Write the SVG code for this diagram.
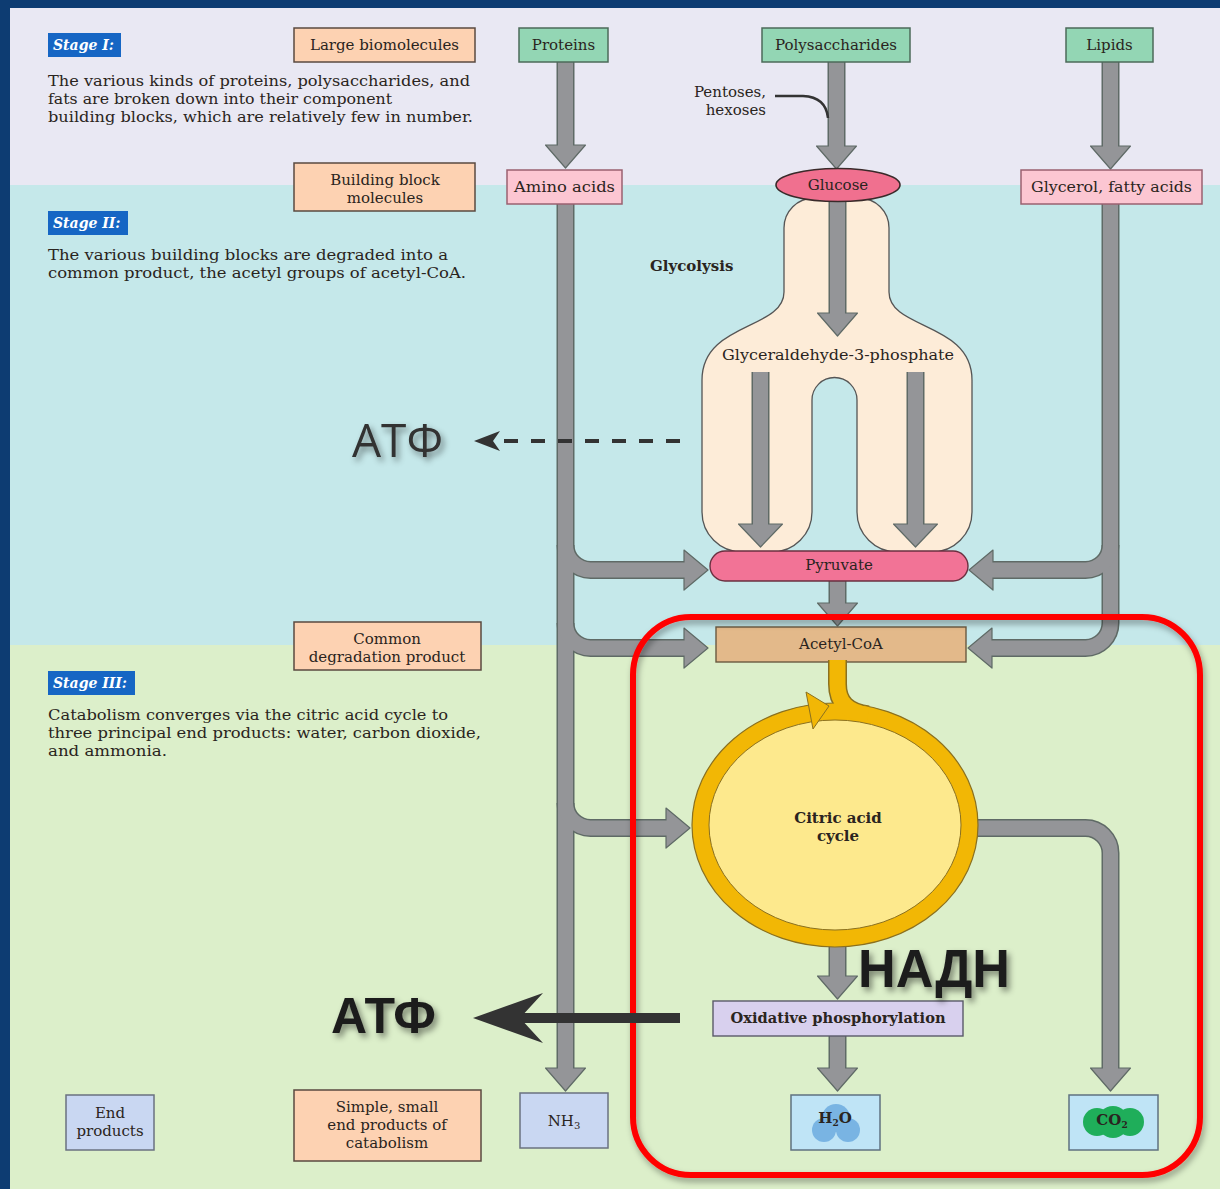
<svg xmlns="http://www.w3.org/2000/svg" width="1220" height="1189" viewBox="0 0 1220 1189">
<defs>
  <style>
    .t{font-family:"DejaVu Serif","Liberation Serif",serif;font-size:15px;fill:#2a2420}
    .c{text-anchor:middle}
    .b{font-weight:bold}
    .stg{fill:#1666c4}
    .stgt{font-family:"DejaVu Serif","Liberation Serif",serif;font-size:14px;font-style:italic;font-weight:bold;fill:#ffffff}
    .bor{fill:#fdd2b2;stroke:#5a4a40;stroke-width:1.5}
    .bgr{fill:#93d6b4;stroke:#4c6a5a;stroke-width:1.5}
    .bpk{fill:#fcc6d2;stroke:#9a6070;stroke-width:1.5}
    .bbl{fill:#c9d7f2;stroke:#6a7280;stroke-width:1.5}
    .bwt{fill:#bfe4f6;stroke:#5f7280;stroke-width:1.5}
    .so{fill:none;stroke:#5f6a66;stroke-width:18}
    .sf{fill:none;stroke:#949598;stroke-width:15}
    .hd{fill:#949598;stroke:#5f6a66;stroke-width:1.2;stroke-linejoin:round}
    .ru{font-family:"Open Sans","DejaVu Sans",sans-serif;fill:#333333}
    .rub{font-family:"Liberation Sans",Arial,sans-serif;font-weight:bold;fill:#1e1e1e}
  </style>
  <filter id="ts" x="-20%" y="-30%" width="150%" height="170%">
    <feDropShadow dx="3" dy="4" stdDeviation="3" flood-color="#000" flood-opacity="0.45"/>
  </filter>
  <filter id="rs" x="-5%" y="-5%" width="110%" height="110%">
    <feDropShadow dx="2" dy="4" stdDeviation="3" flood-color="#000" flood-opacity="0.35"/>
  </filter>
  <!-- arrow shafts, drawn twice: dark outline then grey body -->
  <g id="shafts">
    <path d="M565.5 62V147"/>
    <path d="M836.5 62V148"/>
    <path d="M1110.5 62V148"/>
    <path d="M837.5 200V315"/>
    <path d="M760.5 372V526"/>
    <path d="M915.5 372V526"/>
    <path d="M837.5 581V605"/>
    <path d="M837.5 946V978"/>
    <path d="M837.5 1035V1070"/>
    <path d="M565.5 204V1070"/>
    <path d="M565.5 545A25 25 0 0 0 590.5 570H686"/>
    <path d="M565.5 623A25 25 0 0 0 590.5 648H686"/>
    <path d="M565.5 803A25 25 0 0 0 590.5 828H668"/>
    <path d="M1110.5 204V623A25 25 0 0 1 1085.5 648H990"/>
    <path d="M1110.5 545A25 25 0 0 1 1085.5 570H991"/>
    <path d="M972 828H1085.5A25 25 0 0 1 1110.5 853V1070"/>
  </g>
  <!-- yellow feed from acetyl-CoA into the cycle -->
  <path id="feed" d="M837.5 660V684C837.5 703 848 712 868 715"/>
</defs>

<!-- frame and stage bands -->
<rect x="0" y="0" width="1220" height="1189" fill="#0d3c72"/>
<rect x="10" y="8" width="1210" height="177" fill="#e9e8f3"/>
<rect x="10" y="185" width="1210" height="460" fill="#c5e8ea"/>
<rect x="10" y="645" width="1210" height="544" fill="#dcefca"/>

<!-- stage descriptions -->
<g id="stage1">
  <rect class="stg" x="48" y="33" width="73" height="24"/>
  <text class="stgt" x="53" y="50">Stage I:</text>
  <text class="t" x="48" y="86" textLength="422" lengthAdjust="spacingAndGlyphs">The various kinds of proteins, polysaccharides, and</text>
  <text class="t" x="48" y="104" textLength="344" lengthAdjust="spacingAndGlyphs">fats are broken down into their component</text>
  <text class="t" x="48" y="122" textLength="425" lengthAdjust="spacingAndGlyphs">building blocks, which are relatively few in number.</text>
</g>
<g id="stage2">
  <rect class="stg" x="48" y="211" width="80" height="24"/>
  <text class="stgt" x="53" y="228">Stage II:</text>
  <text class="t" x="48" y="260" textLength="400" lengthAdjust="spacingAndGlyphs">The various building blocks are degraded into a</text>
  <text class="t" x="48" y="278" textLength="418" lengthAdjust="spacingAndGlyphs">common product, the acetyl groups of acetyl-CoA.</text>
</g>
<g id="stage3">
  <rect class="stg" x="48" y="671" width="87" height="24"/>
  <text class="stgt" x="53" y="688">Stage III:</text>
  <text class="t" x="48" y="720" textLength="400" lengthAdjust="spacingAndGlyphs">Catabolism converges via the citric acid cycle to</text>
  <text class="t" x="48" y="738" textLength="433" lengthAdjust="spacingAndGlyphs">three principal end products: water, carbon dioxide,</text>
  <text class="t" x="48" y="756" textLength="119" lengthAdjust="spacingAndGlyphs">and ammonia.</text>
</g>

<!-- level labels -->
<g id="large-biomolecules">
  <rect class="bor" x="294" y="28" width="181" height="34"/>
  <text class="t c" x="384.5" y="50">Large biomolecules</text>
</g>
<g id="building-blocks">
  <rect class="bor" x="294" y="163" width="181" height="48"/>
  <text class="t c" x="385" y="185">Building block</text>
  <text class="t c" x="385" y="203">molecules</text>
</g>
<g id="common-product">
  <rect class="bor" x="294" y="622" width="187" height="48"/>
  <text class="t c" x="387" y="644">Common</text>
  <text class="t c" x="387" y="662">degradation product</text>
</g>
<g id="end-products-label">
  <rect class="bbl" x="66" y="1095" width="88" height="55"/>
  <text class="t c" x="110" y="1118">End</text>
  <text class="t c" x="110" y="1136">products</text>
</g>
<g id="simple-products">
  <rect class="bor" x="294" y="1090" width="187" height="71"/>
  <text class="t c" x="387" y="1112">Simple, small</text>
  <text class="t c" x="387" y="1130">end products of</text>
  <text class="t c" x="387" y="1148">catabolism</text>
</g>

<!-- glycolysis envelope -->
<g id="glycolysis">
  <path d="M784 292V228A30 30 0 0 1 814 198H859A30 30 0 0 1 889 228V292C889 330 972 322 972 380V512A40 40 0 0 1 932 552H897A40 40 0 0 1 857 512V400A22.5 22.5 0 0 0 812 400V512A40 40 0 0 1 772 552H742A40 40 0 0 1 702 512V380C702 322 784 330 784 292Z" fill="#fdecd8" stroke="#555" stroke-width="1.3"/>
  <text class="t b" x="650" y="271" font-size="14">Glycolysis</text>
  <text class="t c" x="838" y="360" fill="#4a3a2a" textLength="232" lengthAdjust="spacingAndGlyphs">Glyceraldehyde-3-phosphate</text>
</g>

<!-- connectors -->
<g id="connectors">
  <use href="#shafts" class="so"/>
  <polygon class="hd" points="545.5,145 585.5,145 565.5,168"/>
  <polygon class="hd" points="816.5,146 856.5,146 836.5,169"/>
  <polygon class="hd" points="1090.5,146 1130.5,146 1110.5,169"/>
  <polygon class="hd" points="817.5,313 857.5,313 837.5,336"/>
  <polygon class="hd" points="738.5,524 782.5,524 760.5,547"/>
  <polygon class="hd" points="893.5,524 937.5,524 915.5,547"/>
  <polygon class="hd" points="817.5,603 857.5,603 837.5,626"/>
  <polygon class="hd" points="817.5,976 857.5,976 837.5,999"/>
  <polygon class="hd" points="817.5,1068 857.5,1068 837.5,1091"/>
  <polygon class="hd" points="545.5,1068 585.5,1068 565.5,1091"/>
  <polygon class="hd" points="1090.5,1068 1130.5,1068 1110.5,1091"/>
  <polygon class="hd" points="684,550 708,570 684,590"/>
  <polygon class="hd" points="684,628 708,648 684,668"/>
  <polygon class="hd" points="666,808 690,828 666,848"/>
  <polygon class="hd" points="993,550 969,570 993,590"/>
  <polygon class="hd" points="992,628 968,648 992,668"/>
  <use href="#shafts" class="sf"/>
  <!-- pentoses/hexoses pointer -->
  <path d="M775 96H803Q826 97 828 118" fill="none" stroke="#333" stroke-width="2.5"/>
</g>

<!-- source molecules -->
<g id="proteins">
  <rect class="bgr" x="519" y="28" width="89" height="34"/>
  <text class="t c" x="563.5" y="50" fill="#1e3a2c">Proteins</text>
</g>
<g id="polysaccharides">
  <rect class="bgr" x="762" y="28" width="148" height="34"/>
  <text class="t c" x="836" y="50" fill="#1e3a2c">Polysaccharides</text>
</g>
<g id="lipids">
  <rect class="bgr" x="1066" y="28" width="87" height="34"/>
  <text class="t c" x="1109.5" y="50" fill="#1e3a2c">Lipids</text>
</g>
<g id="pentoses-label">
  <text class="t" x="766" y="97" text-anchor="end" font-size="14">Pentoses,</text>
  <text class="t" x="766" y="115" text-anchor="end" font-size="14">hexoses</text>
</g>

<!-- building blocks -->
<g id="amino-acids">
  <rect class="bpk" x="507" y="170" width="115" height="34"/>
  <text class="t c" x="564.5" y="192" fill="#5a2030" textLength="101" lengthAdjust="spacingAndGlyphs">Amino acids</text>
</g>
<g id="glucose">
  <ellipse cx="838" cy="185" rx="62" ry="16.5" fill="#f0708f" stroke="#3a2a2a" stroke-width="1.6"/>
  <text class="t c" x="838" y="190" fill="#6a1020" font-size="14">Glucose</text>
</g>
<g id="glycerol">
  <rect class="bpk" x="1021" y="170" width="181" height="34"/>
  <text class="t c" x="1111.5" y="192" fill="#5a2030" textLength="161" lengthAdjust="spacingAndGlyphs">Glycerol, fatty acids</text>
</g>

<g id="pyruvate">
  <rect x="710" y="551" width="258" height="30" rx="15" fill="#f27396" stroke="#6a3040" stroke-width="1.4"/>
  <text class="t c" x="839" y="570" fill="#5a1030" font-size="14">Pyruvate</text>
</g>
<g id="acetyl-coa">
  <rect x="716" y="627" width="250" height="35" fill="#e3b98a" stroke="#6a5a40" stroke-width="1.4"/>
  <text class="t c" x="841" y="649" font-size="14">Acetyl-CoA</text>
</g>

<!-- citric acid cycle ring -->
<g id="citric-acid-cycle">
  <use href="#feed" fill="none" stroke="#8a7020" stroke-width="19"/>
  <ellipse cx="835" cy="825" rx="143" ry="122" fill="#f2b705" stroke="#8a7020" stroke-width="1.2"/>
  <use href="#feed" fill="none" stroke="#f2b705" stroke-width="16"/>
  <ellipse cx="835" cy="825" rx="126" ry="105" fill="#fde98d" stroke="#8a7020" stroke-width="1"/>
  <polygon points="806,692 829,706 813,729" fill="#f2b705" stroke="#8a7020" stroke-width="1" stroke-linejoin="round"/>
  <text class="t c b" x="838" y="823" font-size="14">Citric acid</text>
  <text class="t c b" x="838" y="841" font-size="14">cycle</text>
</g>

<g id="oxidative-phosphorylation">
  <rect x="713" y="1001" width="250" height="35" fill="#d8d0ee" stroke="#5a5a6a" stroke-width="1.4"/>
  <text class="t c b" x="838" y="1023" font-size="14" textLength="215" lengthAdjust="spacingAndGlyphs">Oxidative phosphorylation</text>
</g>

<!-- end products -->
<g id="nh3">
  <rect class="bbl" x="520" y="1093" width="88" height="55"/>
  <text class="t c" x="564" y="1126">NH<tspan font-size="10" dy="3">3</tspan></text>
</g>
<g id="h2o">
  <rect class="bwt" x="791" y="1095" width="89" height="55"/>
  <circle cx="836" cy="1118" r="14" fill="#79b4e3"/>
  <circle cx="824" cy="1130" r="12" fill="#79b4e3"/>
  <circle cx="848" cy="1130" r="12" fill="#79b4e3"/>
  <text class="t c b" x="835" y="1123" font-size="12" fill="#1e2a4a">H<tspan font-size="9" dy="3">2</tspan><tspan dy="-3">O</tspan></text>
</g>
<g id="co2">
  <rect class="bwt" x="1069" y="1095" width="89" height="55"/>
  <circle cx="1097" cy="1122" r="14" fill="#1fae5a"/>
  <circle cx="1113" cy="1122" r="16" fill="#1fae5a"/>
  <circle cx="1130" cy="1122" r="14" fill="#1fae5a"/>
  <text class="t c b" x="1112" y="1125" font-size="12" fill="#1e2a1e">CO<tspan font-size="9" dy="3">2</tspan></text>
</g>

<!-- highlight frame around stage III -->
<rect x="633" y="617" width="567" height="558" rx="58" fill="none" stroke="#ff0000" stroke-width="6" filter="url(#rs)"/>

<!-- energy annotations -->
<g id="atp-glycolysis">
  <path d="M680 441H500" stroke="#333" stroke-width="4" stroke-dasharray="14 13" fill="none"/>
  <polygon points="474,441 500,431 493,441 500,451" fill="#333"/>
  <text class="ru" x="352" y="457" font-size="46" filter="url(#ts)">АТФ</text>
</g>
<g id="nadh">
  <text class="rub" x="858" y="987" font-size="54" textLength="152" lengthAdjust="spacingAndGlyphs" filter="url(#ts)">НАДН</text>
</g>
<g id="atp-oxphos">
  <path d="M680 1018H515" stroke="#333" stroke-width="10" fill="none"/>
  <polygon points="473,1018 543,993 520,1018 543,1043" fill="#333"/>
  <text class="rub" x="331" y="1033" font-size="50" filter="url(#ts)">АТФ</text>
</g>
</svg>
